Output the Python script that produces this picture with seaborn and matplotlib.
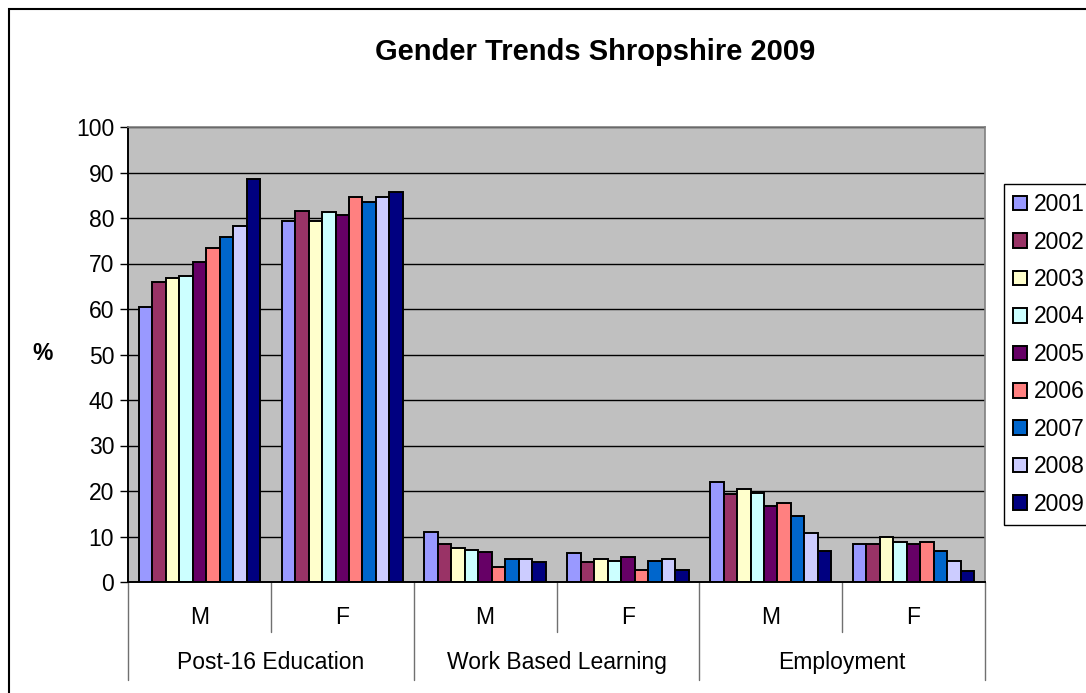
import matplotlib
matplotlib.use('Agg')
import matplotlib.pyplot as plt
import matplotlib.transforms as mtransforms
from matplotlib.patches import Rectangle
import pandas as pd
import seaborn as sns

# values (percent)
years = ['2001', '2002', '2003', '2004', '2005', '2006', '2007', '2008', '2009']
groups = ['Post-16 Education', 'Work Based Learning', 'Employment']
genders = ['M', 'F']
post16_m = [60.4, 66.0, 66.8, 67.3, 70.3, 73.5, 75.9, 78.2, 88.5]
post16_f = [79.4, 81.5, 79.4, 81.4, 80.6, 84.6, 83.5, 84.6, 85.8]
wbl_m = [11.0, 8.3, 7.4, 7.1, 6.7, 3.2, 5.1, 5.1, 4.3]
wbl_f = [6.3, 4.3, 5.1, 4.6, 5.5, 2.7, 4.6, 5.1, 2.7]
emp_m = [22.0, 19.3, 20.4, 19.6, 16.6, 17.3, 14.6, 10.7, 6.8]
emp_f = [8.3, 8.3, 9.9, 8.7, 8.3, 8.7, 6.8, 4.7, 2.4]
colours = ['#9999FF', '#993366', '#FFFFCC', '#CCFFFF', '#660066',
           '#FF8080', '#0066CC', '#CCCCFF', '#000080']

series = [post16_m, post16_f, wbl_m, wbl_f, emp_m, emp_f]
rows = []
for i, vals in enumerate(series):
    for yr, v in zip(years, vals):
        rows.append({'slot': i, 'year': yr, 'pct': v})
df = pd.DataFrame(rows)

sns.set_style('white')
plt.rcParams['font.family'] = ['Liberation Sans', 'DejaVu Sans']
plt.rcParams['text.color'] = 'black'
plt.rcParams['xtick.color'] = 'black'
plt.rcParams['ytick.color'] = 'black'
plt.rcParams['axes.labelcolor'] = 'black'

W, H = 1086, 693
fig = plt.figure(figsize=(W / 100, H / 100), dpi=100)
ax = fig.add_axes([128 / W, 1 - 582 / H, 857 / W, 455 / H])

sns.barplot(data=df, x='slot', y='pct', hue='year', palette=colours,
            width=0.85, saturation=1, edgecolor='black', linewidth=1.4,
            errorbar=None, ax=ax)

ax.set_facecolor('#C0C0C0')
ax.set_ylim(0, 100)
ax.set_xlim(-0.5, 5.5)
ax.set_yticks(range(0, 101, 10))
ax.yaxis.grid(True, color='black', linewidth=1)
ax.set_axisbelow(True)
ax.set_xticks([])
ax.set_xlabel('')
ax.set_ylabel('')
ax.tick_params(axis='y', direction='out', length=6, width=1,
               labelsize=16.5, pad=4, left=True, color='black',
               labelcolor='black')
for s in ['top', 'right']:
    ax.spines[s].set_color('#808080')
    ax.spines[s].set_linewidth(1.2)
for s in ['left', 'bottom']:
    ax.spines[s].set_color('black')
    ax.spines[s].set_linewidth(1.4)

# two-level category axis
trans = mtransforms.blended_transform_factory(ax.transData, ax.transAxes)
for i, g in enumerate(genders * 3):
    ax.text(i, -0.077, g, transform=trans, ha='center', va='center',
            fontsize=16.5, color='black')
for j, name in enumerate(groups):
    ax.text(2 * j + 0.5, -0.178, name, transform=trans, ha='center', va='center',
            fontsize=16.5, color='black')
for b in [0.5, 2.5, 4.5]:
    ax.plot([b, b], [0, -0.11], transform=trans, clip_on=False, color='#707070', lw=1)
for b in [-0.5, 1.5, 3.5, 5.5]:
    ax.plot([b, b], [0, -0.215], transform=trans, clip_on=False, color='#707070', lw=1)

fig.text(43 / W, 1 - 354 / H, '%', ha='center', va='center', fontsize=16.5,
         fontweight='bold', color='black')
fig.text(595 / W, 1 - 52 / H, 'Gender Trends Shropshire 2009', ha='center',
         va='center', fontsize=21, fontweight='bold', color='black')

handles, labels = ax.get_legend_handles_labels()
ax.get_legend().remove()
leg = fig.legend(handles, labels, loc='upper left',
                 bbox_to_anchor=(1004 / W, 1 - 184 / H), frameon=True,
                 fancybox=False, edgecolor='black', framealpha=1,
                 fontsize=16.5, handlelength=0.6, handleheight=0.6,
                 handletextpad=0.3, labelspacing=0.63, borderpad=0.4,
                 borderaxespad=0, labelcolor='black')
leg.get_frame().set_linewidth(1.0)

# outer chart border (runs off the right and bottom edges)
fig.patches.append(Rectangle((9 / W, -0.05), 1.2, 1.05 - 9 / H, fill=False,
                             edgecolor='black', linewidth=1.5,
                             transform=fig.transFigure))

fig.savefig('out.png', dpi=100)
